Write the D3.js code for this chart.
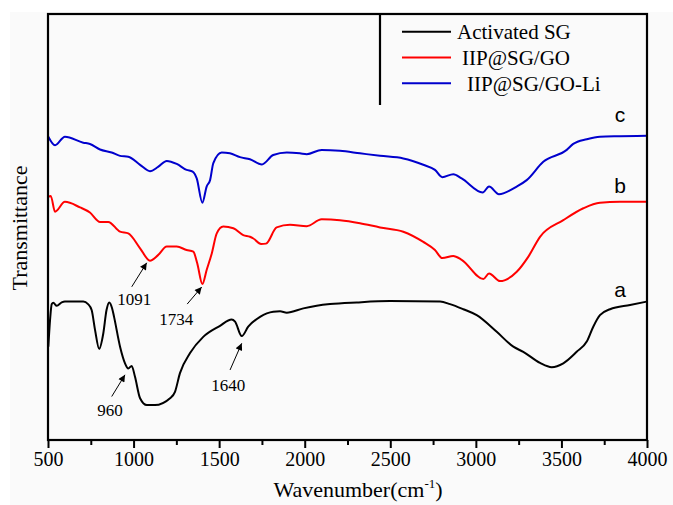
<!DOCTYPE html>
<html><head><meta charset="utf-8">
<script src="https://cdn.jsdelivr.net/npm/d3@7"></script>
<style>body{margin:0;background:#fff}svg{display:block}</style>
</head><body><svg id="chart" width="673" height="505"></svg>
<script>
// ---------------- data ----------------
const seriesNames = ["Activated SG", "IIP@SG/GO", "IIP@SG/GO-Li"];
const curveLabels = ["a", "b", "c"];
const xTicks = [500, 1000, 1500, 2000, 2500, 3000, 3500, 4000];
const xMinorTicks = [750, 1250, 1750, 2250, 2750, 3250, 3750];

// wavenumber (cm-1), transmittance (arbitrary offset units)
const activatedSG = [
  [502,21.9],[512,28.2],[522,31.9],[531,32.2],[551,31.5],[580,32.3],[599,32.5],[706,32.5],
  [734,31.9],[755,30.5],[775,25.8],[799,21.4],[823,25.0],[842,30.5],[858,32.3],[874,31.0],
  [886,28.9],[921,21.9],[950,18.0],[969,16.8],[989,17.4],[1008,14.9],[1038,9.8],[1077,8.2],
  [1125,8.2],[1213,9.8],[1242,11.3],[1271,15.7],[1330,20.4],[1407,24.2],[1505,26.8],[1573,28.3],
  [1593,27.8],[1632,24.4],[1670,26.6],[1739,28.9],[1816,30.1],[1856,30.2],[1895,29.9],[1992,30.9],
  [2070,31.5],[2148,31.9],[2304,32.3],[2498,32.6],[2791,32.5],[2849,31.9],[2927,30.7],[3005,29.3],
  [3122,25.4],[3219,21.9],[3277,20.7],[3375,18.1],[3443,17.1],[3511,18.0],[3589,20.7],[3648,23.1],
  [3686,26.6],[3725,29.3],[3784,30.7],[3901,31.7],[4000,32.5]
];
const iipSGGO = [
  [502,57.1],[516,57.3],[541,53.6],[599,55.9],[687,54.6],[745,53.4],[804,51.2],[852,51.2],
  [921,48.9],[969,48.5],[1038,45.0],[1096,42.1],[1143,43.4],[1194,45.4],[1252,45.4],[1310,44.6],
  [1349,44.2],[1372,41.5],[1402,36.6],[1427,39.9],[1457,43.8],[1486,48.5],[1524,50.1],[1583,49.7],
  [1641,48.1],[1680,47.7],[1700,47.3],[1745,46.0],[1774,46.1],[1836,49.9],[1914,50.5],[2012,50.2],
  [2099,51.8],[2206,51.6],[2323,50.9],[2440,49.9],[2576,48.9],[2693,46.5],[2761,44.6],[2804,42.7],
  [2868,43.2],[2917,42.3],[3044,37.8],[3077,39.1],[3141,37.3],[3239,39.5],[3306,43.0],[3375,47.7],
  [3511,51.6],[3628,54.4],[3725,55.7],[3842,55.9],[4000,55.9]
];
const iipSGGOLi = [
  [502,71.2],[541,69.2],[599,71.2],[706,69.8],[745,69.5],[804,68.2],[872,67.5],[921,66.7],
  [969,66.5],[1038,64.6],[1096,63.1],[1143,64.1],[1194,65.5],[1252,64.8],[1310,63.4],[1345,63.0],
  [1369,61.4],[1402,55.7],[1427,59.5],[1447,61.0],[1466,65.0],[1515,67.5],[1563,67.3],[1622,66.4],
  [1680,65.9],[1750,64.7],[1816,66.9],[1895,67.5],[1972,67.3],[2012,67.1],[2099,68.1],[2206,67.9],
  [2323,67.3],[2440,66.7],[2576,66.1],[2693,64.6],[2761,63.4],[2804,61.7],[2868,62.4],[2917,61.4],
  [3040,58.1],[3077,59.5],[3135,57.7],[3239,59.5],[3297,61.0],[3394,65.3],[3531,68.1],[3569,69.5],
  [3648,70.6],[3725,71.2],[3842,71.3],[4000,71.4]
];
const seriesData = [activatedSG, iipSGGO, iipSGGOLi];
const seriesColors = ["#000000", "#ff0000", "#0000cd"];

// annotations: label, arrow tip (wavenumber, transmittance)
const annotLabels = ["1091", "1734", "960", "1640"];
const annotTips = [[1077,41.6],[1398,35.9],[950,15.3],[1632,22.7]];

// ---------------- layout ----------------
const svg = d3.select("#chart");
const L = 48, R = 647, T = 14, B = 440;
const x = d3.scaleLinear().domain([500, 4000]).range([L, R]);
const y = d3.scaleLinear().domain([0, 100]).range([B, T]);
const serif = "'Liberation Serif','Times New Roman',serif";

svg.append("rect").attr("width", 673).attr("height", 505).attr("fill", "#ffffff");
svg.append("rect").attr("x", 10).attr("y", 12).attr("width", 663).attr("height", 493).attr("fill", "#fafafa");

// curves
const line = d3.line().x(d => x(d[0])).y(d => y(d[1])).curve(d3.curveMonotoneX);
seriesData.forEach((s, i) => {
  svg.append("path").datum(s).attr("d", line)
    .attr("fill", "none").attr("stroke", seriesColors[i]).attr("stroke-width", 2)
    .attr("stroke-linejoin", "round");
});

// bottom axis
const ax = svg.append("g").attr("transform", `translate(0,${B})`)
  .call(d3.axisBottom(x).tickValues(xTicks).tickSize(8).tickFormat(d3.format("d")));
ax.select(".domain").remove();
ax.selectAll("line").attr("stroke", "#000").attr("stroke-width", 2);
ax.selectAll("text").attr("font-family", serif)
  .attr("font-size", 20).attr("fill", "#000").attr("y", 12).attr("dy", "0.71em");
svg.append("g").attr("transform", `translate(0,${B})`)
  .call(d3.axisBottom(x).tickValues(xMinorTicks).tickSize(5).tickFormat(""))
  .call(g => g.select(".domain").remove())
  .selectAll("line").attr("stroke", "#000").attr("stroke-width", 2);

// frame
svg.append("rect").attr("x", L).attr("y", T).attr("width", R - L).attr("height", B - T)
  .attr("fill", "none").attr("stroke", "#000").attr("stroke-width", 2.2);

// axis titles
const xt = svg.append("text").attr("x", 358).attr("y", 497).attr("text-anchor", "middle")
  .attr("font-family", serif).attr("font-size", 22).attr("fill", "#000");
xt.append("tspan").text("Wavenumber(cm");
xt.append("tspan").attr("font-size", 13).attr("dy", -9).text("-1");
xt.append("tspan").attr("dy", 9).text(")");
svg.append("text").attr("transform", "translate(27,228) rotate(-90)").attr("text-anchor", "middle")
  .attr("font-family", serif).attr("font-size", 22).attr("fill", "#000").text("Transmittance");

// legend
svg.append("path").attr("d", `M380,105 V${T} H${R}`).attr("fill", "none")
  .attr("stroke", "#000").attr("stroke-width", 2.2);
seriesNames.forEach((n, i) => {
  const ly = 31.7 + i * 25.8;
  svg.append("line").attr("x1", 402).attr("x2", 451).attr("y1", ly).attr("y2", ly)
    .attr("stroke", seriesColors[i]).attr("stroke-width", 2);
  svg.append("text").attr("x", 457 + i * 5).attr("y", ly + 7.5)
    .attr("font-family", serif).attr("font-size", 21).attr("fill", "#000").text(n);
});

// curve letters at right end
const letterOffsets = [-4.5, -9, -14];
seriesData.forEach((s, i) => {
  const last = s[s.length - 1];
  svg.append("text").attr("x", 620).attr("y", y(last[1]) + letterOffsets[i]).attr("text-anchor", "middle")
    .attr("font-family", "'Liberation Sans',Arial,sans-serif").attr("font-size", 21)
    .attr("fill", "#000").text(curveLabels[i]);
});

// annotation arrows
const tailOffsets = [[-15, 24], [-14.5, 17], [-13.3, 21.7], [-11.7, 26.7]];
const labelOffsets = [[-12.5, 42], [-25.5, 38], [-15, 41.5], [-13.5, 47.7]];
svg.append("defs").append("marker").attr("id", "ah").attr("viewBox", "0 0 10 10")
  .attr("refX", 10).attr("refY", 5).attr("markerWidth", 9).attr("markerHeight", 7)
  .attr("markerUnits", "userSpaceOnUse").attr("orient", "auto")
  .append("path").attr("d", "M0,0 L10,5 L0,10 Z").attr("fill", "#000");
annotLabels.forEach((lab, i) => {
  const tx = x(annotTips[i][0]), ty = y(annotTips[i][1]);
  svg.append("line").attr("x1", tx + tailOffsets[i][0]).attr("y1", ty + tailOffsets[i][1])
    .attr("x2", tx).attr("y2", ty).attr("stroke", "#000").attr("stroke-width", 1)
    .attr("marker-end", "url(#ah)");
  svg.append("text").attr("x", tx + labelOffsets[i][0]).attr("y", ty + labelOffsets[i][1])
    .attr("text-anchor", "middle").attr("font-family", serif).attr("font-size", 17)
    .attr("fill", "#000").text(lab);
});
</script></body></html>
